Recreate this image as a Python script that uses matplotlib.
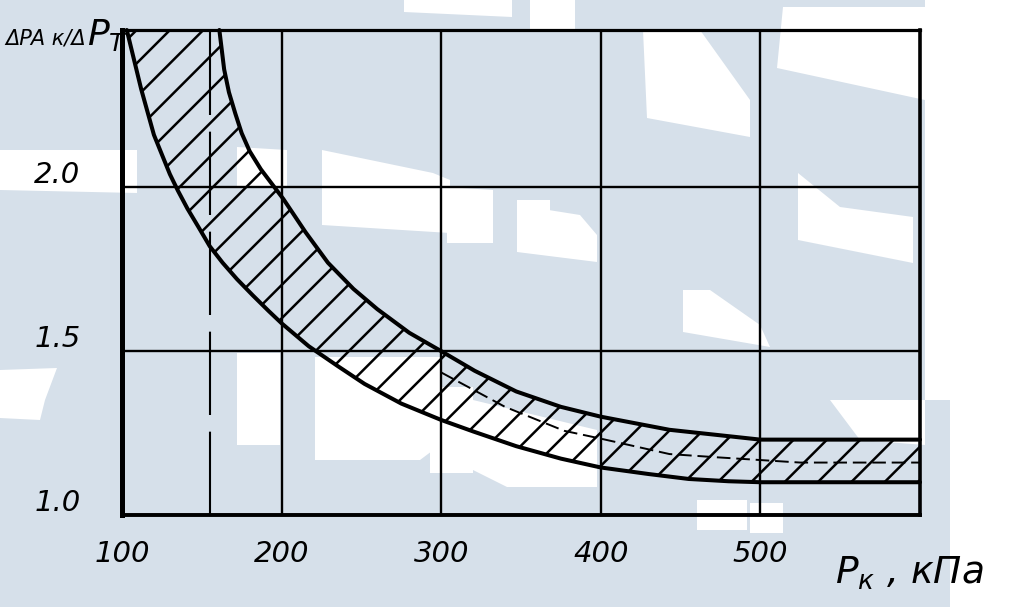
import matplotlib
matplotlib.use("Agg")
import matplotlib.pyplot as plt
from matplotlib.patches import Polygon
from matplotlib.transforms import ScaledTranslation

# ---------------- data ----------------
lower_p = [103, 106, 109, 112, 116, 120, 125, 130, 135, 141, 148, 155, 163, 172,
           182, 192, 200, 217, 235, 252, 275, 300, 320, 347, 375, 400, 430, 455,
           480, 500, 600]
lower_ratio = [2.48, 2.42, 2.36, 2.30, 2.23, 2.16, 2.10, 2.04, 1.99, 1.935, 1.878,
               1.82, 1.77, 1.72, 1.67, 1.622, 1.585, 1.515, 1.455, 1.40, 1.34, 1.29,
               1.255, 1.21, 1.172, 1.145, 1.125, 1.11, 1.103, 1.10, 1.10]

upper_p = [161, 164, 167, 171, 175, 180, 187, 194, 201, 215, 229, 245, 260, 280,
           300, 321, 347, 375, 400, 443, 500, 600]
upper_ratio = [2.48, 2.36, 2.29, 2.225, 2.165, 2.11, 2.055, 2.01, 1.965, 1.863,
               1.77, 1.69, 1.628, 1.556, 1.50, 1.44, 1.377, 1.33, 1.30, 1.26,
               1.23, 1.23]

mid_p = [300, 340, 377, 400, 443, 473, 525, 600]
mid_ratio = [1.435, 1.33, 1.257, 1.233, 1.186, 1.176, 1.16, 1.16]

dashed_p = 155

x_ticks = [100, 200, 300, 400, 500]
x_tick_labels = ["100", "200", "300", "400", "500"]
y_ticks = [1.0, 1.5, 2.0]
y_tick_labels = ["1.0", "1.5", "2.0"]
x_limits = (100, 600)
y_limits = (1.0, 2.48)

# ---------------- figure ----------------
W, H = 1025, 607
fig = plt.figure(figsize=(W / 100, H / 100), dpi=100)
fig.patch.set_facecolor("#d6e0ea")

# white scan blotches of the reference (decoration, pixel coords from top-left)
blotches = [
    [(925, 0), (1025, 0), (1025, 607), (950, 607), (950, 400), (925, 400)],
    [(404, 0), (512, 0), (512, 17), (404, 12)],
    [(530, 0), (575, 0), (575, 30), (530, 30)],
    [(643, 30), (700, 30), (750, 100), (750, 137), (647, 118)],
    [(783, 7), (925, 7), (925, 100), (777, 68)],
    [(798, 173), (840, 207), (913, 217), (913, 263), (798, 240)],
    [(447, 187), (493, 190), (493, 243), (447, 243)],
    [(517, 205), (580, 215), (597, 235), (597, 262), (517, 252)],
    [(683, 290), (710, 290), (760, 325), (770, 347), (683, 332)],
    [(237, 147), (287, 150), (287, 187), (237, 187)],
    [(322, 150), (433, 173), (450, 180), (450, 233), (322, 225)],
    [(0, 150), (137, 150), (137, 193), (0, 190)],
    [(0, 370), (57, 368), (45, 400), (40, 420), (0, 418)],
    [(237, 353), (280, 353), (280, 445), (237, 445)],
    [(315, 357), (440, 357), (440, 445), (420, 460), (315, 460)],
    [(517, 200), (550, 200), (550, 250), (517, 245)],
    [(430, 387), (473, 387), (473, 473), (430, 473)],
    [(473, 400), (597, 430), (597, 487), (507, 487), (473, 470)],
    [(830, 400), (925, 400), (925, 445), (860, 440)],
    [(697, 500), (747, 500), (747, 530), (697, 530)],
    [(750, 503), (783, 503), (783, 533), (750, 533)],
    [(703, 513), (737, 513), (737, 530), (703, 530)],
]
for poly in blotches:
    pts = [(x / W, 1 - y / H) for x, y in poly]
    fig.add_artist(Polygon(pts, closed=True, transform=fig.transFigure,
                           facecolor="white", edgecolor="none", zorder=-5))

left_px, right_px, top_px, bottom_px = 122, 920, 30, 515
ax = fig.add_axes([left_px / W, 1 - bottom_px / H,
                   (right_px - left_px) / W, (bottom_px - top_px) / H])
ax.set_facecolor("none")
ax.set_xlim(*x_limits)
ax.set_ylim(*y_limits)

# hatched band
poly_x = lower_p + upper_p[::-1]
poly_y = lower_ratio + upper_ratio[::-1]
plt.rcParams["hatch.linewidth"] = 1.8
ax.fill(poly_x, poly_y, facecolor="none", edgecolor="black", linewidth=0,
        hatch="/", zorder=2)

ax.plot(lower_p, lower_ratio, color="black", lw=2.9, zorder=3,
        solid_capstyle="round", clip_on=False)
ax.plot(upper_p, upper_ratio, color="black", lw=2.9, zorder=3,
        solid_capstyle="round", clip_on=False)
ax.plot(mid_p, mid_ratio, color="black", lw=1.4, linestyle=(0, (7, 3)), zorder=3)

ax.axvline(dashed_p, color="black", lw=1.5, linestyle=(0, (40, 8)), zorder=2)

# grid & frame
ax.set_xticks(x_ticks)
ax.set_xticklabels(x_tick_labels)
ax.set_yticks(y_ticks)
ax.set_yticklabels(y_tick_labels)
ax.grid(True, color="black", lw=1.7, zorder=1)
ax.set_axisbelow(True)
for side, lw in [("left", 3.6), ("right", 2.6), ("top", 2.3), ("bottom", 2.8)]:
    ax.spines[side].set_linewidth(lw)
    ax.spines[side].set_color("black")
ax.tick_params(axis="both", length=0)
ax.tick_params(axis="x", pad=18)
ax.tick_params(axis="y", pad=30)

for lab in ax.get_xticklabels() + ax.get_yticklabels():
    lab.set_fontfamily("DejaVu Sans")
    lab.set_fontstyle("oblique")
    lab.set_fontsize(21)
for lab in ax.get_yticklabels():
    lab.set_transform(lab.get_transform() +
                      ScaledTranslation(0, 0.15, fig.dpi_scale_trans))

# axis titles
fig.text(835 / W, 1 - 584 / H, r"$P_{к}$ , кПа", fontsize=27, style="italic",
         ha="left", va="baseline", family="DejaVu Sans")
fig.text(86 / W, 1 - 45 / H, "ΔPA к/Δ", fontsize=15, style="italic",
         ha="right", va="baseline", family="DejaVu Sans")
fig.text(87 / W, 1 - 45 / H, r"$P_{T}$", fontsize=26,
         ha="left", va="baseline")

fig.savefig("out.png", dpi=100, facecolor=fig.get_facecolor())
